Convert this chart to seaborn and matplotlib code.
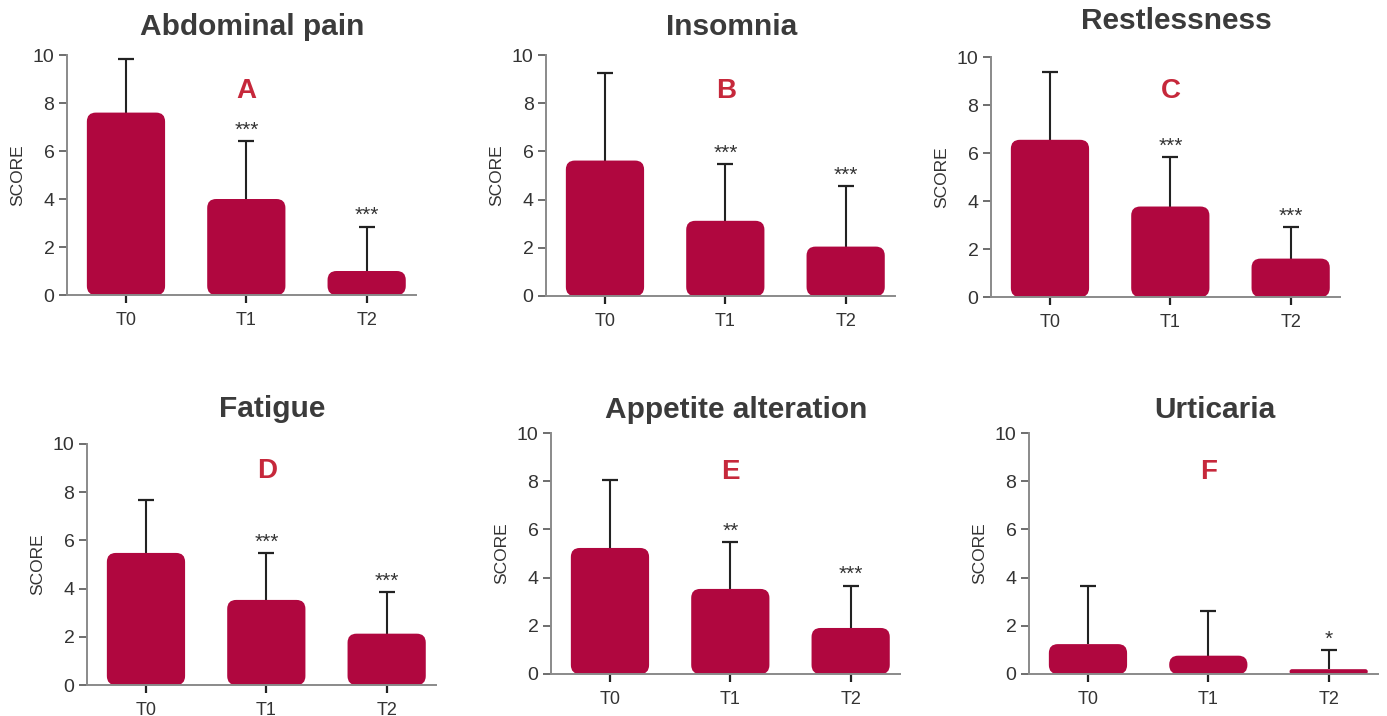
import matplotlib
matplotlib.use("Agg")
import matplotlib.pyplot as plt
import seaborn as sns
from matplotlib.patches import FancyBboxPatch

# --- data (mean score and upper SD per time point) ---
times = ["T0", "T1", "T2"]
titles = ["Abdominal pain", "Insomnia", "Restlessness",
          "Fatigue", "Appetite alteration", "Urticaria"]
letters = ["A", "B", "C", "D", "E", "F"]

abdominal_mean = [7.6, 4.0, 1.0]
abdominal_sd = [2.23, 2.4, 1.85]
insomnia_mean = [5.62, 3.12, 2.05]
insomnia_sd = [3.63, 2.35, 2.52]
restless_mean = [6.55, 3.77, 1.6]
restless_sd = [2.82, 2.06, 1.3]
fatigue_mean = [5.48, 3.53, 2.13]
fatigue_sd = [2.2, 1.94, 1.73]
appetite_mean = [5.23, 3.53, 1.91]
appetite_sd = [2.82, 1.95, 1.76]
urticaria_mean = [1.24, 0.76, 0.2]
urticaria_sd = [2.4, 1.87, 0.8]

abdominal_sig = ["", "***", "***"]
insomnia_sig = ["", "***", "***"]
restless_sig = ["", "***", "***"]
fatigue_sig = ["", "***", "***"]
appetite_sig = ["", "**", "***"]
urticaria_sig = ["", "", "*"]

means = [abdominal_mean, insomnia_mean, restless_mean,
         fatigue_mean, appetite_mean, urticaria_mean]
sds = [abdominal_sd, insomnia_sd, restless_sd,
       fatigue_sd, appetite_sd, urticaria_sd]
sigs = [abdominal_sig, insomnia_sig, restless_sig,
        fatigue_sig, appetite_sig, urticaria_sig]

# --- layout in pixels: spine x, axes top, axes bottom, title offset, letter y ---
W, H = 1387, 716
AX_W = 349
layout = [
    (67, 55, 295, 28, 8.5),
    (546, 55, 296, 28, 8.5),
    (991, 57, 297, 36, 8.6),
    (87, 444, 685, 35, 8.9),
    (551, 433, 674, 23, 8.4),
    (1029, 433, 674, 23, 8.4),
]

BAR = "#b0073f"
RED = "#c6283b"
TXT = "#333333"
SPINE = "#8a8a8a"

sns.set_style("white")
plt.rcParams["font.family"] = ["Liberation Sans", "DejaVu Sans"]

fig = plt.figure(figsize=(W / 100, H / 100), dpi=100)

for i in range(6):
    left, top, bottom, t_off, let_y = layout[i]
    h_px = bottom - top
    ax = fig.add_axes([left / W, 1 - bottom / H, AX_W / W, h_px / H])

    sns.barplot(x=times, y=means[i], color=BAR, width=0.65, errorbar=None,
                saturation=1, ax=ax)
    ax.set_xlim(-0.49, 2.41)
    ax.set_ylim(0, 10)

    # swap the plain rectangles for rounded ones
    px_x = AX_W / 2.9
    px_y = h_px / 10
    asp = px_x / px_y
    for p in list(ax.patches):
        x, y = p.get_x(), p.get_y()
        w, hgt = p.get_width(), p.get_height()
        p.remove()
        r = min(9 / px_x, w / 2, hgt / asp / 2)
        ax.add_patch(FancyBboxPatch((x, y), w, hgt,
                                    boxstyle=f"round,pad=0,rounding_size={r}",
                                    mutation_aspect=asp, fc=BAR, ec="none",
                                    zorder=2))

    # upper-only SD whiskers
    _, caps, _ = ax.errorbar(range(3), means[i], yerr=[[0, 0, 0], sds[i]],
                             fmt="none", ecolor="#222222", elinewidth=1.5,
                             capsize=6, capthick=1.6, zorder=1)
    for c in caps:
        if list(c.get_ydata()) == list(means[i]):
            c.remove()

    for j in range(3):
        if sigs[i][j]:
            ax.text(j, means[i][j] + sds[i][j] + 0.22, sigs[i][j],
                    ha="center", va="baseline", fontsize=15, color=TXT)

    sns.despine(ax=ax)
    for s in ["left", "bottom"]:
        ax.spines[s].set_color(SPINE)
        ax.spines[s].set_linewidth(1.4)

    ax.set_yticks([0, 2, 4, 6, 8, 10])
    ax.tick_params(axis="y", length=6, width=1.2, color="#555555", pad=3,
                   labelsize=14, labelcolor=TXT, left=True)
    ax.tick_params(axis="x", length=6, width=1.6, color="#222222", pad=6,
                   labelsize=13, labelcolor=TXT, bottom=True)

    ax.set_ylabel("SCORE", fontsize=12.5, color=TXT)
    ax.yaxis.set_label_coords(-42 / AX_W, 0.5)
    ax.set_xlabel("")

    ax.text(0.5 + 11 / AX_W, 1 + t_off / h_px, titles[i], transform=ax.transAxes,
            ha="center", va="center", fontsize=21.5, fontweight="bold",
            color="#3b3b3b")
    ax.text(0.515, let_y, letters[i], transform=ax.get_yaxis_transform(),
            ha="center", va="center", fontsize=20, fontweight="bold", color=RED)

fig.savefig("out.png", dpi=100)
